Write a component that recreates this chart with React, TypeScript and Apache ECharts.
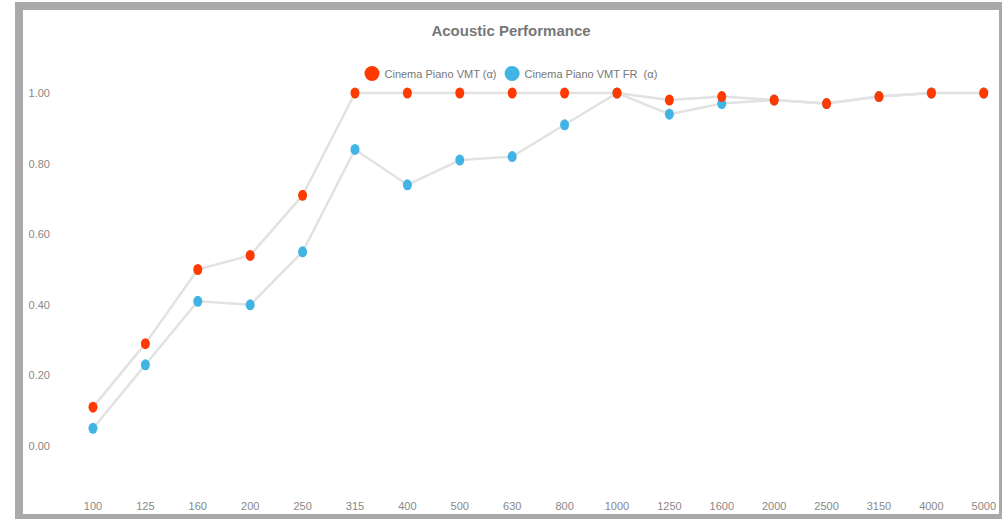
import React, { useEffect, useRef } from "react";
import * as echarts from "echarts";

const categories = ["100", "125", "160", "200", "250", "315", "400", "500", "630", "800", "1000", "1250", "1600", "2000", "2500", "3150", "4000", "5000"];
const vmtValues = [0.11, 0.29, 0.5, 0.54, 0.71, 1.0, 1.0, 1.0, 1.0, 1.0, 1.0, 0.98, 0.99, 0.98, 0.97, 0.99, 1.0, 1.0];
const vmtFrValues = [0.05, 0.23, 0.41, 0.4, 0.55, 0.84, 0.74, 0.81, 0.82, 0.91, 1.0, 0.94, 0.97, 0.98, 0.97, 0.99, 1.0, 1.0];
const seriesNames = ["Cinema Piano VMT (α)", "Cinema Piano VMT FR  (α)"];
const titleText = "Acoustic Performance";

const ELLIPSE = "path://M0 50 A50 50 0 1 0 100 50 A50 50 0 1 0 0 50 Z";
const FONT = 'Arial, "Liberation Sans", sans-serif';

export default function App() {
  const ref = useRef<HTMLDivElement>(null);
  useEffect(() => {
    if (!ref.current) return;
    const chart = echarts.init(ref.current, null, { renderer: "svg" });
    chart.setOption({
      animation: false,
      backgroundColor: "#ffffff",
      textStyle: { fontFamily: FONT },
      title: {
        text: titleText,
        left: "center",
        top: 8,
        textStyle: { fontSize: 15, fontWeight: "bold", color: "#777777", fontFamily: FONT },
      },
      legend: {
        data: [seriesNames[0], seriesNames[1]],
        top: 51,
        left: "center",
        icon: ELLIPSE,
        itemWidth: 15,
        itemHeight: 17,
        itemGap: 8,
        textStyle: { fontSize: 11, color: "#777777", fontFamily: FONT },
      },
      grid: { left: 70, right: 11, top: 83, bottom: 68, containLabel: false },
      xAxis: {
        type: "category",
        data: categories,
        boundaryGap: false,
        axisLine: { show: false },
        axisTick: { show: false },
        splitLine: { show: false },
        axisLabel: { color: "#888888", fontSize: 11, margin: 54, fontFamily: FONT, interval: 0 },
      },
      yAxis: {
        type: "value",
        min: 0,
        max: 1,
        interval: 0.2,
        axisLine: { show: false },
        axisTick: { show: false },
        splitLine: { show: false },
        axisLabel: {
          color: "#888888",
          fontSize: 11,
          margin: 43,
          fontFamily: FONT,
          formatter: (v: number) => v.toFixed(2),
        },
      },
      series: [
        {
          name: seriesNames[1],
          type: "line",
          data: vmtFrValues,
          clip: false,
          symbol: ELLIPSE,
          symbolSize: [9, 11],
          itemStyle: { color: "#41b4e4" },
          lineStyle: { color: "#e2e2e2", width: 2.5 },
        },
        {
          name: seriesNames[0],
          type: "line",
          data: vmtValues,
          clip: false,
          symbol: ELLIPSE,
          symbolSize: [9, 11],
          itemStyle: { color: "#ff3a00" },
          lineStyle: { color: "#e2e2e2", width: 2.5 },
        },
      ],
    });
    return () => chart.dispose();
  }, []);

  return (
    <div
      style={{
        position: "absolute",
        left: 15,
        top: 2,
        width: 976,
        height: 504,
        borderStyle: "solid",
        borderColor: "#a9a9a9",
        borderWidth: "8px 3px 5px 8px",
        background: "#ffffff",
      }}
    >
      <div ref={ref} style={{ width: 976, height: 504 }} />
    </div>
  );
}
